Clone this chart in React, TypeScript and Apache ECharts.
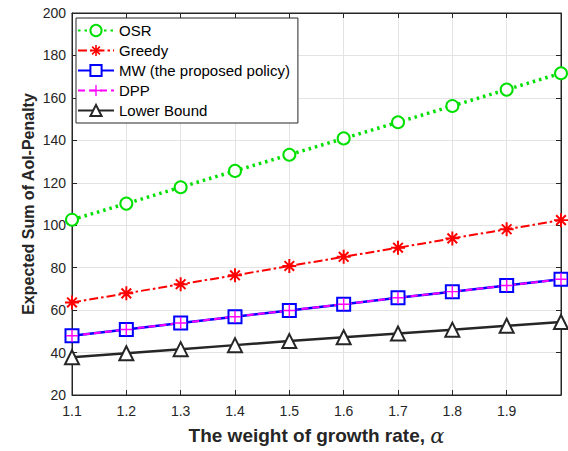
import React, { useEffect, useRef } from "react";
import * as echarts from "echarts";

const alphaValues = [1.1, 1.2, 1.3, 1.4, 1.5, 1.6, 1.7, 1.8, 1.9, 2.0];
const osr = [102.6, 110.2, 117.9, 125.6, 133.2, 140.9, 148.5, 156.2, 163.9, 171.6];
const greedy = [63.6, 67.9, 72.2, 76.4, 80.8, 85.1, 89.4, 93.8, 98.1, 102.4];
const mw = [47.9, 50.9, 53.9, 56.9, 59.8, 62.8, 65.8, 68.7, 71.6, 74.5];
const dpp = [47.9, 50.9, 53.9, 56.9, 59.8, 62.8, 65.8, 68.7, 71.6, 74.5];
const lowerBound = [37.8, 39.7, 41.6, 43.5, 45.4, 47.2, 49.0, 50.8, 52.6, 54.4];
const seriesNames = ["OSR", "Greedy", "MW (the proposed policy)", "DPP", "Lower Bound"];
const xTicks = [1.1, 1.2, 1.3, 1.4, 1.5, 1.6, 1.7, 1.8, 1.9];

const asteriskPath =
  "path://M0 8.6H20V11.4H0Z M8.6 0H11.4V20H8.6Z M2.1 4.1L4.1 2.1L17.9 15.9L15.9 17.9Z M15.9 2.1L17.9 4.1L4.1 17.9L2.1 15.9Z";
const plusPath = "path://M0 8.8H20V11.2H0Z M8.8 0H11.2V20H8.8Z";

const FONT = "Liberation Sans, Arial, Helvetica, sans-serif";

function pairs(ys: number[]) {
  return alphaValues.map((x, i) => [x, ys[i]]);
}

export default function App() {
  const ref = useRef<HTMLDivElement>(null);
  useEffect(() => {
    if (!ref.current) return;
    const chart = echarts.init(ref.current, undefined, { renderer: "svg" });
    const axisColor = "#262626";
    chart.setOption({
      animation: false,
      backgroundColor: "#ffffff",
      textStyle: { fontFamily: FONT },
      grid: {
        left: 72,
        right: 7,
        top: 13,
        bottom: 55,
        show: true,
        borderColor: axisColor,
        borderWidth: 1,
        backgroundColor: "transparent",
      },
      legend: {
        data: seriesNames,
        orient: "vertical",
        left: 76,
        top: 18,
        itemWidth: 36,
        itemHeight: 14,
        itemGap: 5,
        padding: [5, 8, 5, 1],
        borderColor: "#262626",
        borderWidth: 1,
        backgroundColor: "#ffffff",
        textStyle: { fontSize: 15, color: "#000", fontFamily: FONT },
      },
      xAxis: [
        {
          type: "value",
          min: 1.1,
          max: 2.0,
          interval: 0.1,
          name: "{t|The weight of growth rate, }{a|α}",
          nameLocation: "middle",
          nameMoveOverlap: false,
          nameGap: 30,
          nameTextStyle: {
            color: axisColor,
            rich: {
              t: { fontSize: 19, fontWeight: "bold", color: axisColor, fontFamily: FONT },
              a: {
                fontSize: 21,
                fontStyle: "italic",
                color: axisColor,
                fontFamily: "DejaVu Serif, Liberation Serif, serif",
              },
            },
          },
          axisLine: { show: true, lineStyle: { color: axisColor } },
          axisTick: { show: true, inside: true, length: 5, lineStyle: { color: axisColor } },
          axisLabel: {
            fontSize: 14,
            color: axisColor,
            margin: 9,
            formatter: (v: number) => {
              const r = Math.round(v * 10) / 10;
              return xTicks.some((t) => Math.abs(t - r) < 1e-6) ? r.toFixed(1) : "";
            },
          },
          splitLine: { show: true, lineStyle: { color: "#e3e3e3", width: 1 } },
        },
        {
          type: "value",
          position: "top",
          min: 1.1,
          max: 2.0,
          interval: 0.1,
          axisLine: { show: true, lineStyle: { color: axisColor } },
          axisTick: { show: true, inside: true, length: 5, lineStyle: { color: axisColor } },
          axisLabel: { show: false },
          splitLine: { show: false },
        },
      ],
      yAxis: [
        {
          type: "value",
          min: 20,
          max: 200,
          interval: 20,
          name: "Expected Sum of AoI-Penalty",
          nameLocation: "middle",
          nameMoveOverlap: false,
          nameGap: 36,
          nameTextStyle: { fontSize: 16, fontWeight: "bold", color: axisColor, fontFamily: FONT },
          axisLine: { show: true, lineStyle: { color: axisColor } },
          axisTick: { show: true, inside: true, length: 5, lineStyle: { color: axisColor } },
          axisLabel: { fontSize: 14, color: axisColor, margin: 6 },
          splitLine: { show: true, lineStyle: { color: "#e3e3e3", width: 1 } },
        },
        {
          type: "value",
          position: "right",
          min: 20,
          max: 200,
          interval: 20,
          axisLine: { show: true, lineStyle: { color: axisColor } },
          axisTick: { show: true, inside: true, length: 5, lineStyle: { color: axisColor } },
          axisLabel: { show: false },
          splitLine: { show: false },
        },
      ],
      series: [
        {
          name: seriesNames[0],
          type: "line",
          data: pairs(osr),
          symbol: "emptyCircle",
          symbolSize: 12,
          lineStyle: { color: "#00e000", width: 3.5, type: [2.5, 4] },
          itemStyle: { color: "#00e000", borderColor: "#00e000", borderWidth: 3 },
        },
        {
          name: seriesNames[1],
          type: "line",
          data: pairs(greedy),
          symbol: asteriskPath,
          symbolSize: 14,
          lineStyle: { color: "#ff0000", width: 2, type: [9, 3, 2.5, 3] },
          itemStyle: { color: "#ff0000", borderWidth: 0 },
        },
        {
          name: seriesNames[2],
          type: "line",
          data: pairs(mw),
          symbol: "emptyRect",
          symbolSize: 13,
          lineStyle: { color: "#0000ff", width: 2.5 },
          itemStyle: { color: "#0000ff", borderColor: "#0000ff", borderWidth: 2.5 },
        },
        {
          name: seriesNames[3],
          type: "line",
          data: pairs(dpp),
          symbol: plusPath,
          symbolSize: 12,
          lineStyle: { color: "#ff00ff", width: 2, type: [7, 4] },
          itemStyle: { color: "#ff00ff", borderWidth: 0 },
        },
        {
          name: seriesNames[4],
          type: "line",
          data: pairs(lowerBound),
          symbol: "emptyTriangle",
          symbolSize: 14,
          lineStyle: { color: "#262626", width: 2.5 },
          itemStyle: { color: "#262626", borderColor: "#262626", borderWidth: 2.5 },
        },
      ],
    });
    return () => chart.dispose();
  }, []);
  return <div ref={ref} style={{ width: 568, height: 451, position: "absolute", left: 0, top: 0 }} />;
}
